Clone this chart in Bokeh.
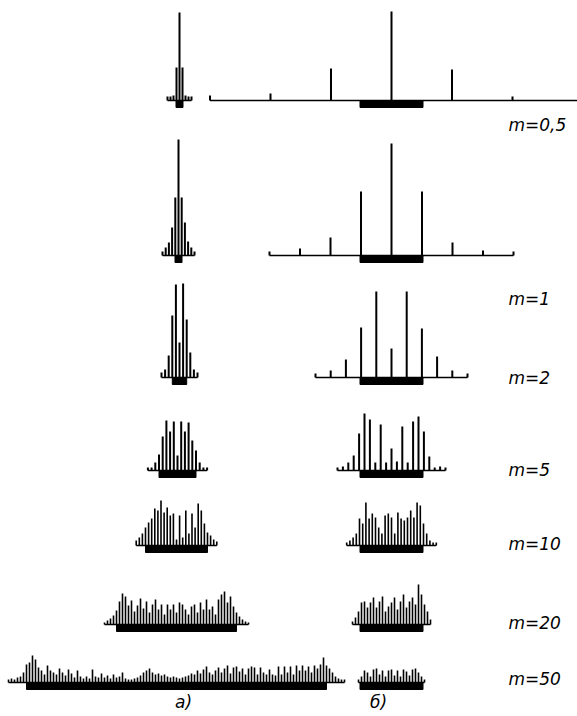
import numpy as np
from bokeh.plotting import figure
from bokeh.models import Range1d
from bokeh.core.properties import value
from bokeh.embed import file_html
from bokeh.resources import INLINE

# ---------------- data (relative line amplitudes) ----------------
m_values = [0.5, 1, 2, 5, 10, 20, 50]
m_labels = ["m=0,5", "m=1", "m=2", "m=5", "m=10", "m=20", "m=50"]
panel_labels = ["а)", "б)"]

# column а) : constant modulation frequency
amp_a_05 = [0.04, 0.04, 0.05, 0.33, 0.88, 0.33, 0.05, 0.04, 0.04]
amp_a_1 = [0.04, 0.08, 0.13, 0.28, 0.58, 1.16, 0.58, 0.33, 0.14, 0.08, 0.04]
amp_a_2 = [0.05, 0.08, 0.22, 0.62, 0.93, 0.35, 0.94, 0.58, 0.25, 0.08, 0.05]
amp_a_5 = [0.03, 0.03, 0.08, 0.16, 0.34, 0.50, 0.39, 0.49, 0.15, 0.49, 0.39, 0.48,
           0.30, 0.20, 0.08, 0.03, 0.03]
amp_a_10 = [0.05, 0.08, 0.12, 0.18, 0.23, 0.27, 0.37, 0.35, 0.45, 0.33, 0.38, 0.30,
            0.32, 0.06, 0.30, 0.08, 0.35, 0.12, 0.32, 0.18, 0.42, 0.35, 0.22, 0.13,
            0.10, 0.06, 0.04]
amp_a_20 = [0.02, 0.04, 0.06, 0.09, 0.14, 0.23, 0.31, 0.28, 0.19, 0.24, 0.13, 0.19,
            0.26, 0.16, 0.23, 0.12, 0.20, 0.25, 0.15, 0.20, 0.10, 0.20, 0.15, 0.20,
            0.12, 0.22, 0.20, 0.15, 0.10, 0.18, 0.20, 0.12, 0.22, 0.15, 0.25, 0.15,
            0.18, 0.10, 0.25, 0.30, 0.33, 0.22, 0.28, 0.18, 0.12, 0.08, 0.05, 0.03,
            0.02]
amp_a_50 = [0.03, 0.04, 0.03, 0.05, 0.06, 0.10, 0.18, 0.20, 0.27, 0.23,
            0.15, 0.12, 0.08, 0.17, 0.12, 0.10, 0.08, 0.14, 0.10, 0.07,
            0.13, 0.09, 0.05, 0.12, 0.06, 0.04, 0.06, 0.04, 0.13, 0.06,
            0.05, 0.09, 0.05, 0.07, 0.04, 0.08, 0.05, 0.06, 0.10, 0.04,
            0.03, 0.03, 0.04, 0.05, 0.07, 0.10, 0.12, 0.14, 0.10, 0.08,
            0.09, 0.07, 0.08, 0.06, 0.05, 0.06, 0.05, 0.04, 0.05, 0.06,
            0.07, 0.09, 0.08, 0.12, 0.09, 0.13, 0.16, 0.10, 0.08, 0.12,
            0.15, 0.10, 0.14, 0.17, 0.09, 0.15, 0.16, 0.11, 0.14, 0.08,
            0.14, 0.16, 0.15, 0.08, 0.15, 0.10, 0.08, 0.13, 0.08, 0.07,
            0.16, 0.08, 0.16, 0.10, 0.16, 0.08, 0.17, 0.12, 0.17, 0.12,
            0.16, 0.10, 0.17, 0.14, 0.18, 0.25, 0.17, 0.14, 0.10, 0.06,
            0.04, 0.03, 0.03]

# column б) : constant frequency deviation
amp_b_05 = [0.05, 0.07, 0.32, 0.89, 0.31, 0.04, 0.0]
amp_b_1 = [0.04, 0.07, 0.18, 0.64, 1.12, 0.64, 0.13, 0.05, 0.04]
amp_b_2 = [0.04, 0.07, 0.18, 0.50, 0.86, 0.29, 0.86, 0.49, 0.21, 0.07, 0.04]
amp_b_5 = [0.03, 0.04, 0.08, 0.15, 0.37, 0.57, 0.51, 0.08, 0.46, 0.08, 0.22,
           0.09, 0.44, 0.08, 0.49, 0.54, 0.39, 0.14, 0.03, 0.04, 0.03]
amp_b_10 = [0.03, 0.05, 0.08, 0.12, 0.27, 0.22, 0.43, 0.27, 0.32, 0.28, 0.18,
            0.12, 0.30, 0.32, 0.28, 0.12, 0.33, 0.27, 0.25, 0.28, 0.35, 0.28,
            0.43, 0.40, 0.22, 0.12, 0.05, 0.03, 0.03]
amp_b_20 = [0.03, 0.07, 0.13, 0.22, 0.23, 0.17, 0.22, 0.27, 0.17, 0.23, 0.28,
            0.13, 0.18, 0.22, 0.27, 0.15, 0.23, 0.30, 0.17, 0.23, 0.27, 0.20,
            0.40, 0.30, 0.20, 0.13, 0.05]
amp_b_50 = [0.03, 0.06, 0.12, 0.10, 0.06, 0.13, 0.14, 0.08, 0.12, 0.06, 0.12,
            0.13, 0.07, 0.12, 0.06, 0.13, 0.11, 0.07, 0.13, 0.14, 0.10, 0.06, 0.03]

amps_a = [amp_a_05, amp_a_1, amp_a_2, amp_a_5, amp_a_10, amp_a_20, amp_a_50]
amps_b = [amp_b_05, amp_b_1, amp_b_2, amp_b_5, amp_b_10, amp_b_20, amp_b_50]

# ---------------- layout ----------------
W, H = 577, 716
row_base = [100, 255, 377, 470, 545, 624, 682]
label_y = [124, 298, 377, 469, 543, 622, 678]
a_center = [179, 178, 179, 177, 176, 176, 176]
a_step = [3.0, 3.2, 3.6, 3.7, 3.1, 3.0, 3.0]
b_center = [391] * 7
b_step = [60.5, 30.5, 15.2, 5.4, 3.2, 3.0, 3.0]
B_DEV = 31.5
SCALE = 100.0
BAR_H = 7

p = figure(width=W, height=H, output_backend="svg", toolbar_location=None,
           x_range=Range1d(0, W), y_range=Range1d(H, 0), min_border=0)
p.axis.visible = False
p.grid.visible = False
p.outline_line_color = None
p.background_fill_color = "white"
p.border_fill_color = "white"


def draw(amps, cx, step, y0, bar_half, lw):
    a = np.array(amps, dtype=float)
    n = np.arange(len(a)) - (len(a) - 1) / 2.0
    x = cx + n * step
    keep = a > 0
    p.segment(x0=x[keep], y0=np.full(keep.sum(), y0), x1=x[keep],
              y1=y0 - a[keep] * SCALE, line_color="black", line_width=lw)
    right = x[-1] if a[-1] > 0 else W
    p.segment(x0=[x[0]], y0=[y0], x1=[right], y1=[y0], line_color="black", line_width=1.6)
    p.quad(left=[cx - bar_half], right=[cx + bar_half], top=[y0], bottom=[y0 + BAR_H],
           fill_color="black", line_color="black")


for i, m in enumerate(m_values):
    lw = 2.0 if i < 4 else 1.6
    draw(amps_a[i], a_center[i], a_step[i], row_base[i], max(m * a_step[i], 3.5), lw)
    draw(amps_b[i], b_center[i], b_step[i], row_base[i], B_DEV, lw)

p.text(x=[508] * len(m_labels), y=label_y, text=m_labels,
       text_font=value("DejaVu Sans"), text_font_style="italic",
       text_font_size="17px", text_align="left", text_baseline="middle",
       text_color="black")
p.text(x=[183, 378], y=[701, 701], text=panel_labels,
       text_font=value("DejaVu Sans"), text_font_style="italic",
       text_font_size="17px", text_align="center", text_baseline="middle",
       text_color="black")

open("out.html", "w").write(file_html(p, INLINE))
